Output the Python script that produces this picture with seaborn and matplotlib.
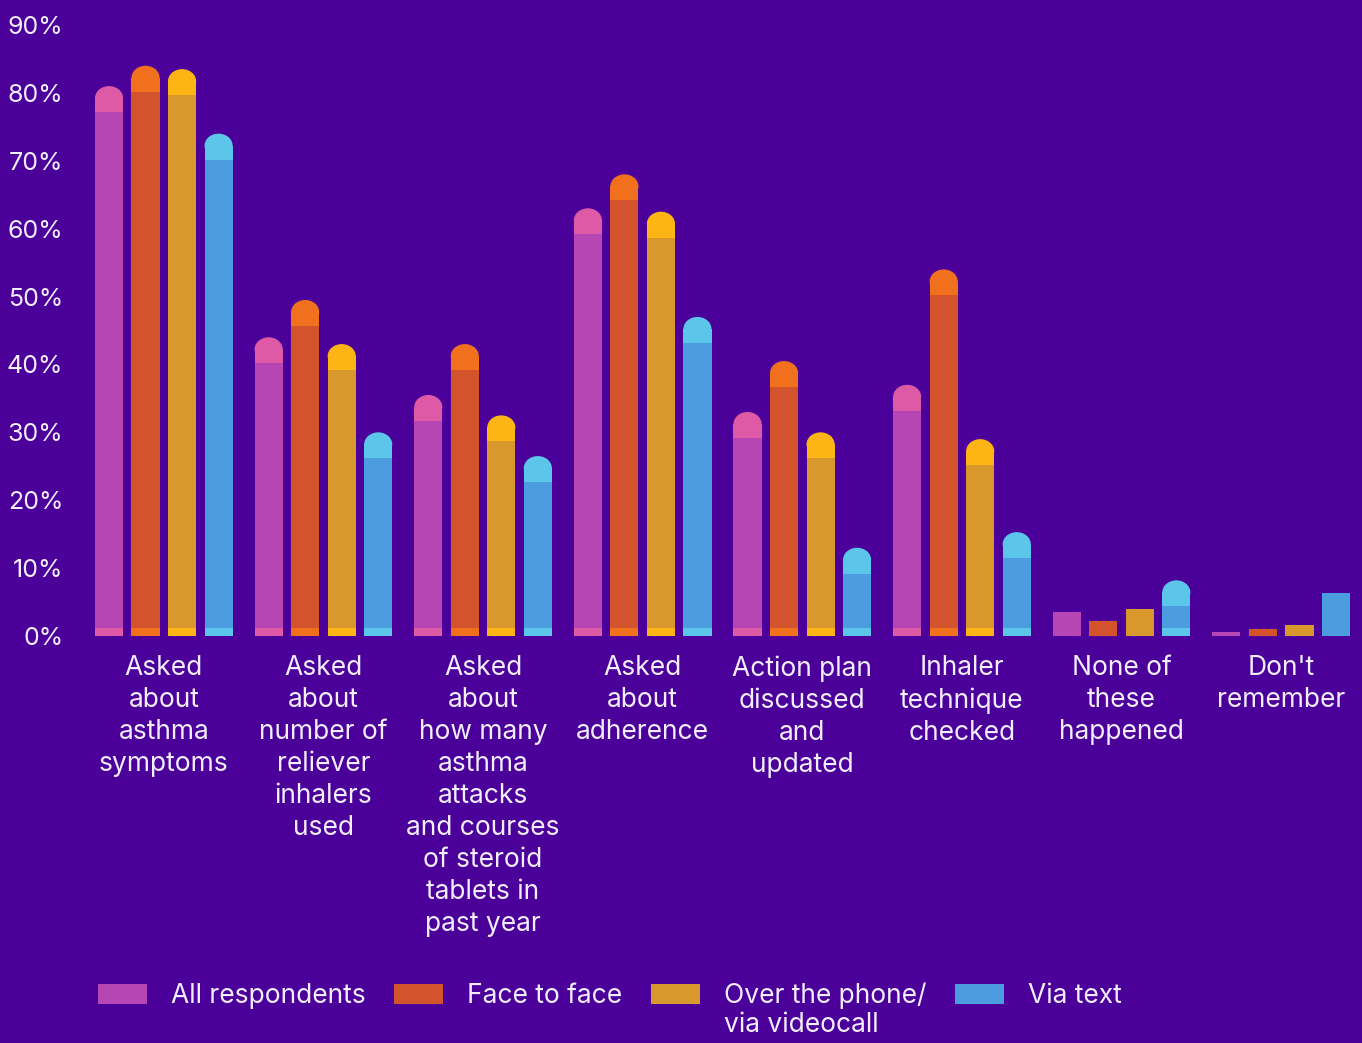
import numpy as np
import pandas as pd
import seaborn as sns
import matplotlib
matplotlib.use("Agg")
import matplotlib.pyplot as plt
from matplotlib.patches import Rectangle, Ellipse, Patch

categories = [
    "Asked\nabout\nasthma\nsymptoms",
    "Asked\nabout\nnumber of\nreliever\ninhalers\nused",
    "Asked\nabout\nhow many\nasthma\nattacks\nand courses\nof steroid\ntablets in\npast year",
    "Asked\nabout\nadherence",
    "Action plan\ndiscussed\nand\nupdated",
    "Inhaler\ntechnique\nchecked",
    "None of\nthese\nhappened",
    "Don't\nremember",
]
series = ["All respondents", "Face to face", "Over the phone/\nvia videocall", "Via text"]
all_resp = [81, 44, 35.5, 63, 33, 37, 3.5, 0.6]
face = [84, 49.5, 43, 68, 40.5, 54, 2.2, 1.1]
phone = [83.5, 43, 32.5, 62.5, 30, 29, 4, 1.6]
text = [74, 30, 26.5, 47, 13, 15.3, 8.2, 6.3]
yticks = [0, 10, 20, 30, 40, 50, 60, 70, 80, 90]
ytick_labels = [f"{v}%" for v in yticks]

body_colors = ["#B646B4", "#D2532C", "#D8982C", "#4C9CE0"]
cap_colors = ["#DE5AA6", "#F0701E", "#FDB515", "#5CC6EA"]
bg = "#4A0099"
txt = "#F2EEFF"

df = pd.DataFrame({
    "category": np.repeat(categories, 4),
    "series": series * len(categories),
    "value": np.ravel(np.column_stack([all_resp, face, phone, text])),
})

sns.set_theme(style="white")
plt.rcParams["font.family"] = ["Inter", "DejaVu Sans"]

W, H = 1362, 1043
fig = plt.figure(figsize=(W / 100, H / 100), dpi=100, facecolor=bg)
ax = fig.add_axes([84 / W, (H - 636) / H, 1277 / W, 611 / H])
ax.set_facecolor(bg)

sns.barplot(data=df, x="category", y="value", hue="series", palette=body_colors,
            width=0.915, gap=0.23, saturation=1, legend=False, ax=ax,
            order=categories, hue_order=series)
ax.set_xlim(-0.5, 7.5)
ax.set_ylim(0, 90)

px_y = 90 / 611.0

for cont, bc, cc in zip(ax.containers, body_colors, cap_colors):
    for p in cont:
        x0, w, h = p.get_x(), p.get_width(), p.get_height()
        p.set_edgecolor("none")
        p.set_facecolor(bc)
        p.set_zorder(3)
        if h > 8:
            ry = 12 * px_y
            cap_v = 26 * px_y
            p.set_height(h - cap_v)
            ax.add_patch(Rectangle((x0, h - cap_v), w, cap_v - ry, facecolor=cc,
                                   edgecolor="none", zorder=2))
            ax.add_patch(Ellipse((x0 + w / 2, h - ry), w, 2 * ry, facecolor=cc,
                                 edgecolor="none", zorder=2))
            ax.add_patch(Rectangle((x0, 0), w, 8 * px_y, facecolor=cc,
                                   edgecolor="none", zorder=4))

ax.set_xlabel("")
ax.set_ylabel("")
ax.set_yticks(yticks)
ax.set_yticklabels(ytick_labels)
ax.tick_params(axis="y", length=0, pad=15, labelsize=18, labelcolor=txt)
ax.tick_params(axis="x", length=0, pad=14, labelsize=19, labelcolor=txt)
for lab in ax.get_xticklabels():
    lab.set_linespacing(1.3)
    lab.set_ha("center")
for s in ax.spines.values():
    s.set_visible(False)
ax.grid(False)

# Legend: first line of each label on one row; second line of the phone label placed below
leg_labels = [s.split("\n")[0] for s in series]
handles = [Patch(facecolor=c, edgecolor="none") for c in body_colors]
leg = fig.legend(handles, leg_labels, loc="center left", bbox_to_anchor=(98 / W, 1 - 996 / H),
                 ncol=4, frameon=False, fontsize=19, labelcolor=txt,
                 handlelength=1.85, handleheight=0.8, handletextpad=0.9,
                 columnspacing=1.1, borderaxespad=0, borderpad=0)

fig.canvas.draw()
renderer = fig.canvas.get_renderer()
for full, t in zip(series, leg.get_texts()):
    if "\n" in full:
        bb = t.get_window_extent(renderer)
        fig.text(bb.x0 / W, (bb.y0 - 29) / H, full.split("\n", 1)[1], color=txt,
                 fontsize=19, ha="left", va="bottom")

fig.savefig("out.png", dpi=100, facecolor=bg)
